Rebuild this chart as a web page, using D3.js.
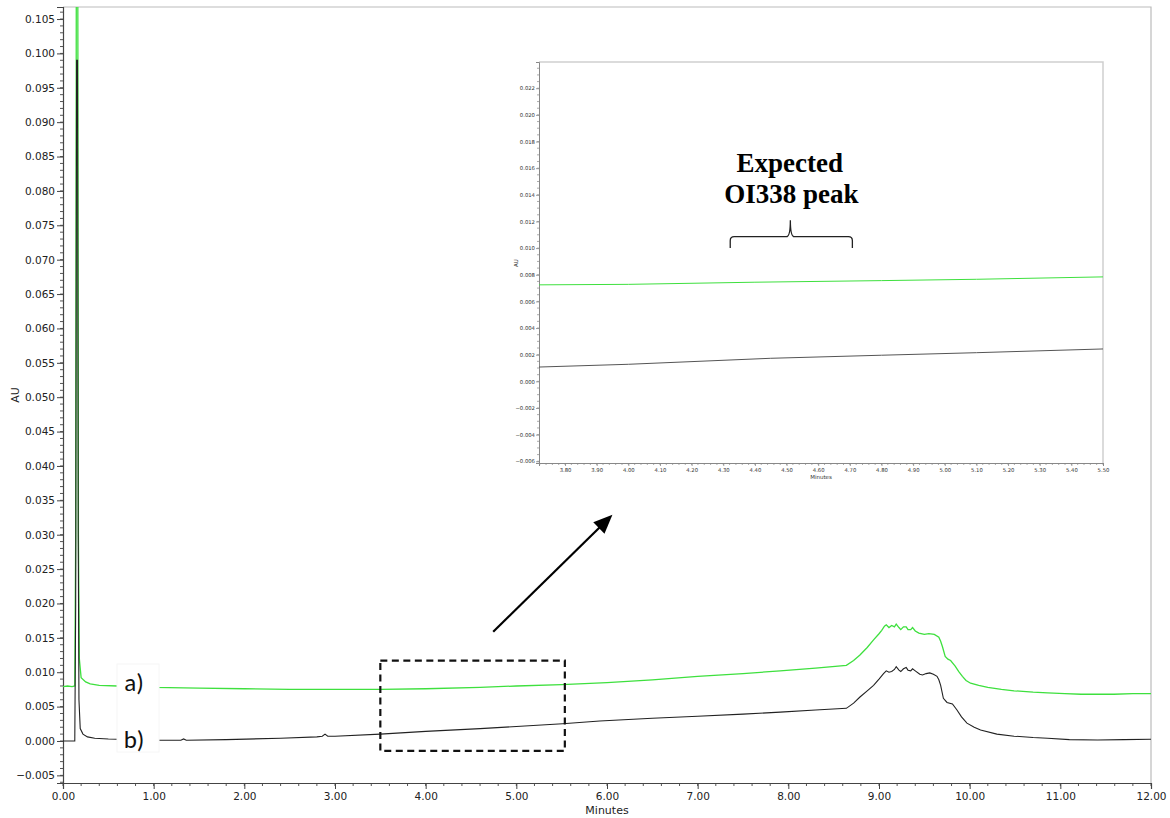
<!DOCTYPE html>
<html><head><meta charset="utf-8">
<script src="https://cdn.jsdelivr.net/npm/d3@7"></script>
<style>
html,body{margin:0;padding:0;background:#fff;}
svg{display:block;font-family:"DejaVu Sans",sans-serif;}
</style></head>
<body>
<svg id="chart" width="1170" height="818"></svg>
<script>
// ---------- DATA ----------
const greenT = [0.00,0.05,0.10,0.13,0.14,0.150,0.160,0.170,0.180,0.20,0.25,0.30,0.40,0.60,0.80,1.00,1.50,2.00,2.50,3.00,3.50,4.00,4.60,5.00,5.50,6.00,6.50,7.00,7.50,7.91,8.30,8.64,8.72,8.79,8.87,8.94,9.00,9.03,9.06,9.08,9.11,9.14,9.17,9.19,9.22,9.24,9.27,9.30,9.32,9.35,9.37,9.40,9.44,9.50,9.55,9.61,9.66,9.68,9.70,9.73,9.76,9.79,9.84,9.88,9.92,9.96,10.01,10.10,10.20,10.35,10.49,10.70,10.86,11.05,11.23,11.40,11.59,11.80,12.00];
const greenV = [0.0079,0.0080,0.0079,0.0080,0.030,0.150,0.150,0.030,0.0120,0.0092,0.0086,0.0083,0.0081,0.0080,0.0079,0.0078,0.0077,0.0076,0.0075,0.0075,0.0075,0.0076,0.0078,0.0080,0.0082,0.0085,0.0089,0.0094,0.0098,0.0102,0.0106,0.0110,0.0117,0.0125,0.0136,0.0147,0.0156,0.0161,0.0167,0.0169,0.0165,0.0168,0.0166,0.0170,0.0165,0.0162,0.0166,0.0166,0.0162,0.0162,0.0165,0.0160,0.0157,0.0155,0.0156,0.0155,0.0151,0.0145,0.0137,0.0123,0.0119,0.0117,0.0109,0.0101,0.0094,0.0088,0.0084,0.0081,0.0078,0.0075,0.0073,0.0071,0.0070,0.0069,0.0068,0.0068,0.0068,0.0069,0.0069];

const blackT = [0.00,0.13,0.14,0.150,0.160,0.168,0.176,0.19,0.22,0.27,0.35,0.50,0.80,1.00,1.30,1.33,1.36,1.80,2.40,2.80,2.86,2.89,2.92,3.00,3.50,4.00,4.60,5.00,5.51,5.92,6.50,7.00,7.50,7.91,8.30,8.64,8.72,8.79,8.87,8.94,9.00,9.05,9.08,9.11,9.14,9.17,9.19,9.22,9.24,9.27,9.30,9.32,9.35,9.37,9.40,9.45,9.48,9.52,9.56,9.60,9.64,9.66,9.68,9.71,9.75,9.81,9.86,9.91,9.97,10.05,10.12,10.30,10.49,10.70,10.86,11.10,11.41,11.70,12.00];
const blackV = [0.0000,0.0000,0.0200,0.0990,0.0990,0.0300,0.0060,0.0018,0.0010,0.0006,0.0004,0.0003,0.0002,0.0001,0.0001,0.0003,0.0001,0.0002,0.0004,0.0006,0.0007,0.0010,0.0007,0.0007,0.0010,0.0014,0.0018,0.0021,0.0025,0.0029,0.0033,0.0036,0.0039,0.0042,0.0045,0.00475,0.0055,0.0064,0.0073,0.0081,0.0090,0.0098,0.0102,0.0100,0.0101,0.0104,0.0108,0.0103,0.0101,0.0105,0.0107,0.0103,0.0102,0.0105,0.0102,0.0097,0.0096,0.0098,0.0099,0.0097,0.0094,0.0089,0.0081,0.0062,0.0056,0.0054,0.0045,0.0035,0.0026,0.0020,0.0016,0.0010,0.0007,0.0005,0.0004,0.0002,0.00015,0.0002,0.00025];

const insetGreenT = [3.70,4.00,4.40,4.80,5.10,5.50];
const insetGreenV = [0.00724,0.00728,0.00744,0.00756,0.00766,0.00784];
const insetBlackT = [3.70,4.00,4.45,4.80,5.10,5.50];
const insetBlackV = [0.00106,0.00128,0.00173,0.00196,0.00215,0.00243];

const xTicks = [0,1,2,3,4,5,6,7,8,9,10,11,12];
const yTicks = [-0.005,0,0.005,0.010,0.015,0.020,0.025,0.030,0.035,0.040,0.045,0.050,0.055,0.060,0.065,0.070,0.075,0.080,0.085,0.090,0.095,0.100,0.105];
const insetXTicks = [3.8,3.9,4.0,4.1,4.2,4.3,4.4,4.5,4.6,4.7,4.8,4.9,5.0,5.1,5.2,5.3,5.4,5.5];
const insetYTicks = [-0.006,-0.004,-0.002,0,0.002,0.004,0.006,0.008,0.010,0.012,0.014,0.016,0.018,0.020,0.022];

const seriesLabels = ["a)", "b)"];
const annotationLines = ["Expected", "OI338 peak"];

// ---------- STYLE ----------
const GREEN = "#3ee03e", BLACK = "#222";
const SERIF = "'Liberation Serif','Times New Roman',serif";
const LABELFONT = "Carlito,'Liberation Sans Narrow','Open Sans',sans-serif";
const svg = d3.select("#chart");

// ---------- MAIN CHART ----------
const x = d3.scaleLinear().domain([0, 12]).range([63, 1151]);
const y = d3.scaleLinear().domain([-0.00611, 0.10675]).range([783, 7]);

svg.append("defs").append("clipPath").attr("id","mainClip")
  .append("rect").attr("x",63).attr("y",7).attr("width",1088).attr("height",776);

svg.append("path").attr("d",`M63,7H1151V783`).attr("fill","none").attr("stroke","#bbb").attr("stroke-width",1.2);

const yMinor = d3.range(-6, 107).map(d => d/1000);
svg.append("g").selectAll("line").data(yMinor).join("line")
  .attr("x1",60).attr("x2",63).attr("y1",d=>y(d)).attr("y2",d=>y(d)).attr("stroke","#555").attr("stroke-width",1);
const xMinor = d3.range(0, 61).map(d => d*0.2);
svg.append("g").selectAll("line").data(xMinor).join("line")
  .attr("x1",d=>x(d)).attr("x2",d=>x(d)).attr("y1",783).attr("y2",786).attr("stroke","#555").attr("stroke-width",1);

const xAxis = svg.append("g").attr("transform","translate(0,783)")
  .call(d3.axisBottom(x).tickValues(xTicks).tickFormat(d3.format(".2f")).tickSize(6).tickPadding(4));
const yAxis = svg.append("g").attr("transform","translate(63,0)")
  .call(d3.axisLeft(y).tickValues(yTicks).tickFormat(d3.format(".3f")).tickSize(6).tickPadding(2));
[xAxis,yAxis].forEach(g=>{
  g.select(".domain").attr("stroke","#444").attr("stroke-width",1.2);
  g.selectAll(".tick line").attr("stroke","#444");
  g.selectAll("text").style("font-size","10.5px").attr("fill","#222").style("font-family","DejaVu Sans");
});

svg.append("text").attr("x",607).attr("y",814).attr("text-anchor","middle").style("font-size","11px").attr("fill","#222").text("Minutes");
svg.append("text").attr("transform","translate(19,395) rotate(-90)").attr("text-anchor","middle").style("font-size","11px").attr("fill","#222").text("AU");

const line = d3.line().x(d=>x(d[0])).y(d=>y(d[1]));
const plot = svg.append("g").attr("clip-path","url(#mainClip)");
plot.append("path").datum(greenT.map((t,i)=>[t,greenV[i]])).attr("d",line)
  .attr("fill","none").attr("stroke",GREEN).attr("stroke-width",1.3);
plot.append("path").datum(blackT.map((t,i)=>[t,blackV[i]])).attr("d",line)
  .attr("fill","none").attr("stroke",BLACK).attr("stroke-width",1.1);

// label box
svg.append("rect").attr("x",117).attr("y",664).attr("width",42).attr("height",88)
  .attr("fill","#fff").attr("stroke","#f6f6f6").attr("stroke-width",1);
svg.append("text").attr("x",134).attr("y",691).attr("text-anchor","middle")
  .style("font-family",LABELFONT).style("font-size","25px").attr("fill","#111").text(seriesLabels[0]);
svg.append("text").attr("x",134).attr("y",748).attr("text-anchor","middle")
  .style("font-family",LABELFONT).style("font-size","25px").attr("fill","#111").text(seriesLabels[1]);

// dashed zoom rectangle
svg.append("rect").attr("x",x(3.5)).attr("y",y(0.0117))
  .attr("width",x(5.535)-x(3.5)).attr("height",y(-0.00145)-y(0.0117))
  .attr("fill","none").attr("stroke","#111").attr("stroke-width",2.2).attr("stroke-dasharray","7,4.5");

// arrow
(function(){
  const x1=x(4.745), y1=y(0.0159), x2=x(6.06), y2=y(0.0329);
  const ang=Math.atan2(y2-y1,x2-x1), L=19, W=8;
  const bx=x2-L*Math.cos(ang), by=y2-L*Math.sin(ang);
  const px=-Math.sin(ang), py=Math.cos(ang);
  svg.append("line").attr("x1",x1).attr("y1",y1).attr("x2",bx+2*Math.cos(ang)).attr("y2",by+2*Math.sin(ang))
    .attr("stroke","#000").attr("stroke-width",2.2);
  svg.append("path").attr("d",`M${x2},${y2}L${bx+W*px},${by+W*py}L${bx-W*px},${by-W*py}Z`).attr("fill","#000");
})();

// ---------- INSET ----------
const ix = d3.scaleLinear().domain([3.7177, 5.50]).range([539, 1103]);
const iy = d3.scaleLinear().domain([-0.00613, 0.02397]).range([463, 62]);
const inset = svg.append("g");
inset.append("rect").attr("x",539).attr("y",62).attr("width",564).attr("height",401).attr("fill","#fff");
inset.append("path").attr("d","M539,62H1103V463").attr("fill","none").attr("stroke","#cfcfcf").attr("stroke-width",1.5);

const iyMinor = d3.range(-12, 48).map(d=>d*0.0005);
inset.append("g").selectAll("line").data(iyMinor).join("line")
  .attr("x1",537).attr("x2",539).attr("y1",d=>iy(d)).attr("y2",d=>iy(d)).attr("stroke","#888").attr("stroke-width",0.7);
const ixMinor = d3.range(186, 276).map(d=>d*0.02);
inset.append("g").selectAll("line").data(ixMinor).join("line")
  .attr("x1",d=>ix(d)).attr("x2",d=>ix(d)).attr("y1",463).attr("y2",465).attr("stroke","#888").attr("stroke-width",0.7);

const ixAxis = inset.append("g").attr("transform","translate(0,463)")
  .call(d3.axisBottom(ix).tickValues(insetXTicks).tickFormat(d3.format(".2f")).tickSize(3).tickPadding(2));
const iyAxis = inset.append("g").attr("transform","translate(539,0)")
  .call(d3.axisLeft(iy).tickValues(insetYTicks).tickFormat(d3.format(".3f")).tickSize(3).tickPadding(1));
[ixAxis,iyAxis].forEach(g=>{
  g.select(".domain").attr("stroke","#888").attr("stroke-width",1);
  g.selectAll(".tick line").attr("stroke","#888").attr("stroke-width",0.8);
  g.selectAll("text").style("font-size","5.3px").attr("fill","#333").style("font-family","DejaVu Sans");
});
inset.append("text").attr("x",821).attr("y",479).attr("text-anchor","middle").style("font-size","5.5px").attr("fill","#333").text("Minutes");
inset.append("text").attr("transform","translate(518,263) rotate(-90)").attr("text-anchor","middle").style("font-size","5.5px").attr("fill","#333").text("AU");

const iline = d3.line().x(d=>ix(d[0])).y(d=>iy(d[1]));
inset.append("defs").append("clipPath").attr("id","insetClip").append("rect").attr("x",539).attr("y",62).attr("width",564).attr("height",401);
const ip = inset.append("g").attr("clip-path","url(#insetClip)");
ip.append("path").datum(insetGreenT.map((t,i)=>[t,insetGreenV[i]])).attr("d",iline)
  .attr("fill","none").attr("stroke",GREEN).attr("stroke-width",1);
ip.append("path").datum(insetBlackT.map((t,i)=>[t,insetBlackV[i]])).attr("d",iline)
  .attr("fill","none").attr("stroke","#555").attr("stroke-width",1);

// annotation text
inset.append("text").attr("x",ix(4.51)).attr("y",iy(0.01572)).attr("text-anchor","middle")
  .style("font-family",SERIF).style("font-weight","bold").style("font-size","27px").attr("fill","#000").text(annotationLines[0]);
inset.append("text").attr("x",ix(4.515)).attr("y",iy(0.01335)).attr("text-anchor","middle")
  .style("font-family",SERIF).style("font-weight","bold").style("font-size","27px").attr("fill","#000").text(annotationLines[1]);

// curly brace
(function(){
  const xl=ix(4.322), xr=ix(4.708), xm=ix(4.512);
  const yb=iy(0.0100), yh=iy(0.01086), yt=iy(0.0121);
  const r=4;
  const d=`M${xl},${yb}V${yh+r}Q${xl},${yh} ${xl+r},${yh}H${xm-r}Q${xm},${yh} ${xm},${yt}` +
          `Q${xm},${yh} ${xm+r},${yh}H${xr-r}Q${xr},${yh} ${xr},${yh+r}V${yb}`;
  inset.append("path").attr("d",d).attr("fill","none").attr("stroke","#222").attr("stroke-width",1.3);
})();
</script>
</body></html>
